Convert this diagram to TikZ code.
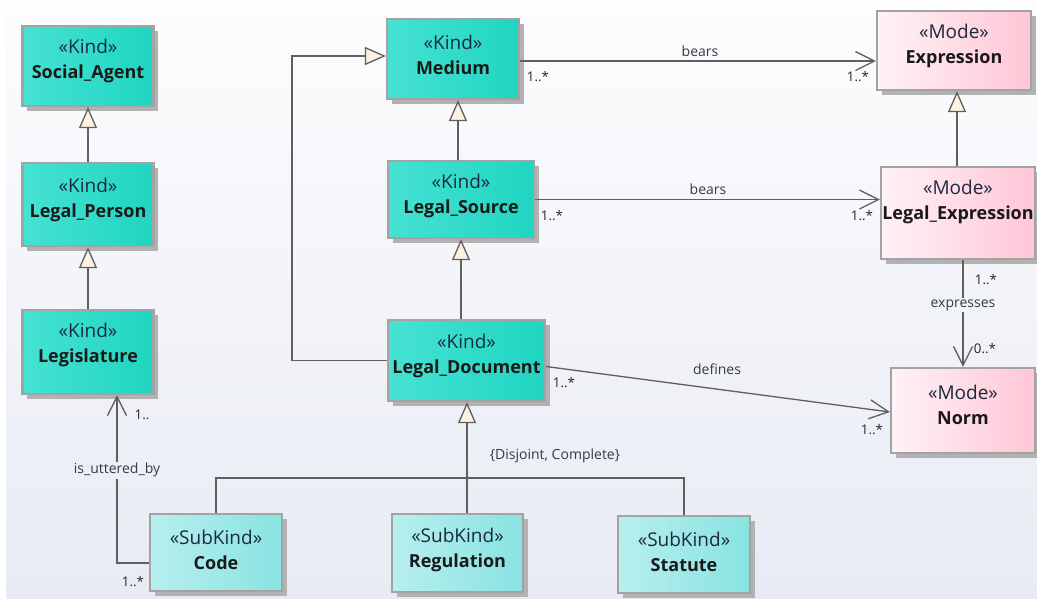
\documentclass[tikz,border=0pt]{standalone}
\usepackage{fontspec}
\setmainfont{Open Sans}
\usetikzlibrary{arrows.meta,shadows,calc}

\definecolor{bgtop}{HTML}{FDFDFE}
\definecolor{bgbot}{HTML}{E8EBF4}
\definecolor{kindL}{HTML}{46E2D3}
\definecolor{kindR}{HTML}{1FD5C2}
\definecolor{subL}{HTML}{B8EFEF}
\definecolor{subR}{HTML}{88E3E1}
\definecolor{modeL}{HTML}{FFF2F6}
\definecolor{modeR}{HTML}{FFC6D6}
\definecolor{boxborder}{HTML}{A3A3A3}
\definecolor{shadowgray}{HTML}{B2B2B2}
\definecolor{linecol}{HTML}{5F5F5F}
\definecolor{genfill}{HTML}{FDF1E2}
\definecolor{stereocol}{HTML}{1B2A3C}
\definecolor{labelcol}{HTML}{333A45}
\definecolor{multcol}{HTML}{2A2420}

\tikzset{
  classbox/.style={draw=boxborder, line width=2.2pt, inner sep=0pt,
    drop shadow={shadow xshift=4.5pt, shadow yshift=-4.5pt, fill=shadowgray, opacity=1}},
  kind/.style={classbox, left color=kindL, right color=kindR},
  subkind/.style={classbox, left color=subL, right color=subR},
  mode/.style={classbox, left color=modeL, right color=modeR},
  classtext/.style={align=center, inner sep=0pt, text=black!90, font=\fontsize{18}{25}\selectfont},
  conn/.style={draw=linecol, line width=1.3pt},
  gen/.style={conn, -{Triangle[length=21pt, width=18pt, fill=genfill, line width=1.3pt]}},
  assoc/.style={conn, -{Straight Barb[length=19pt, width=19pt, line width=1.3pt]}},
  lab/.style={font=\fontsize{14}{16}\selectfont, text=labelcol, inner sep=1.5pt},
  mult/.style={font=\fontsize{13.3}{15}\selectfont, text=multcol, inner sep=0pt},
}

% name, style, x, y, width, height, stereotype, title, text offset
\newcommand\umlclass[9]{%
  \node[#2, minimum width=#5pt, minimum height=#6pt] (#1) at (#3,#4) {};
  \node[classtext] (#1-text) at ($(#1.center)+(0,#9)$)
    {{\fontsize{19}{25}\selectfont\color{stereocol}«#7»}\\{\bfseries #8}};
}

\begin{document}
\begin{tikzpicture}[x=1pt,y=-1pt]
  % canvas
  \fill[white] (0,0) rectangle (1037,598);
  \fill[top color=bgtop, bottom color=bgbot] (6,0) rectangle (1037,598);
  \useasboundingbox (0,0) rectangle (1037,598);

  % classes
  \umlclass{socialagent}{kind}{88}{66}{131}{80}{Kind}{Social\_Agent}{-5}
  \umlclass{legalperson}{kind}{88}{204.5}{131}{83}{Kind}{Legal\_Person}{-5}
  \umlclass{legislature}{kind}{88}{352}{131}{84}{Kind}{Legislature}{-7}
  \umlclass{medium}{kind}{453}{59}{132}{80}{Kind}{Medium}{-4}
  \umlclass{legalsource}{kind}{461}{199.5}{146}{77}{Kind}{Legal\_Source}{-4}
  \umlclass{legaldoc}{kind}{466.5}{360.5}{157}{81}{Kind}{Legal\_Document}{-5}
  \umlclass{expression}{mode}{954}{50.5}{154}{79}{Mode}{Expression}{-4.5}
  \umlclass{legalexpr}{mode}{958}{213}{154}{92}{Mode}{Legal\_Expression}{-11}
  \umlclass{norm}{mode}{963}{410.5}{144}{85}{Mode}{Norm}{-6}
  \umlclass{code}{subkind}{216}{552.5}{132}{77}{SubKind}{Code}{-3}
  \umlclass{regulation}{subkind}{457.5}{553}{131}{78}{SubKind}{Regulation}{-3.5}
  \umlclass{statute}{subkind}{684}{554.5}{132}{77}{SubKind}{Statute}{-3}

  % helper coordinates for routed connectors
  \coordinate (mediumx) at (458,0);
  \coordinate (exprx) at (957,0);
  \coordinate (docx) at (467,0);
  \coordinate (bears1) at (0,61);
  \coordinate (mediumbend) at (292,56);
  \coordinate (utterbend) at (117,563);
  \coordinate (genbus) at (467,478);

  % generalizations
  \draw[gen] (legalperson.north) -- (socialagent.south);
  \draw[gen] (legislature.north) -- (legalperson.south);
  \draw[gen] (legalsource.north -| mediumx) -- (medium.south -| mediumx);
  \draw[gen] (legaldoc.north -| legalsource.south) -- (legalsource.south);
  \draw[gen] (legaldoc.west) -| (mediumbend) -- (mediumbend -| medium.west);
  \draw[gen] (legalexpr.north -| exprx) -- (expression.south -| exprx);
  \draw[gen] (regulation.north -| docx) -- (legaldoc.south -| docx);
  \draw[conn] (code.north) |- (genbus) -| (statute.north);

  % associations
  \draw[assoc] (medium.east |- bears1) -- (expression.west |- bears1);
  \draw[assoc] (legalsource.east) -- (legalsource.east -| legalexpr.west);
  \draw[assoc] (legalexpr.south -| norm.north) -- (norm.north);
  \draw[assoc] ($(legaldoc.east)+(0,6)$) -- ($(norm.west)+(0,1.5)$);
  \draw[assoc] (code.west |- utterbend) -- (utterbend) -- (utterbend |- legislature.south);

  % association names and multiplicities
  \node[lab] (bears1-name) at (700,51) {bears};
  \node[mult] (bears1-src) at (538,77) {1..*};
  \node[mult] (bears1-tgt) at (858,77) {1..*};

  \node[lab] (bears2-name) at (708,189) {bears};
  \node[mult] (bears2-src) at (552,216) {1..*};
  \node[mult] (bears2-tgt) at (862,216) {1..*};

  \node[mult] (expr-src) at (986,280) {1..*};
  \node[lab, fill=bgbot!55!bgtop] (expr-name) at (963,305) {expresses};
  \node[mult] (expr-tgt) at (985,349) {0..*};

  \node[lab] (def-name) at (717,369) {defines};
  \node[mult] (def-src) at (564,383) {1..*};
  \node[mult] (def-tgt) at (872,430) {1..*};

  \node[mult] (utter-tgt) at (142,415) {1..};
  \node[lab, fill=bgbot!80!bgtop] (utter-name) at (117,470) {is\_uttered\_by};
  \node[mult] (utter-src) at (133,582) {1..*};

  \node[lab] (genset) at (555,456) {\{Disjoint, Complete\}};
\end{tikzpicture}
\end{document}
